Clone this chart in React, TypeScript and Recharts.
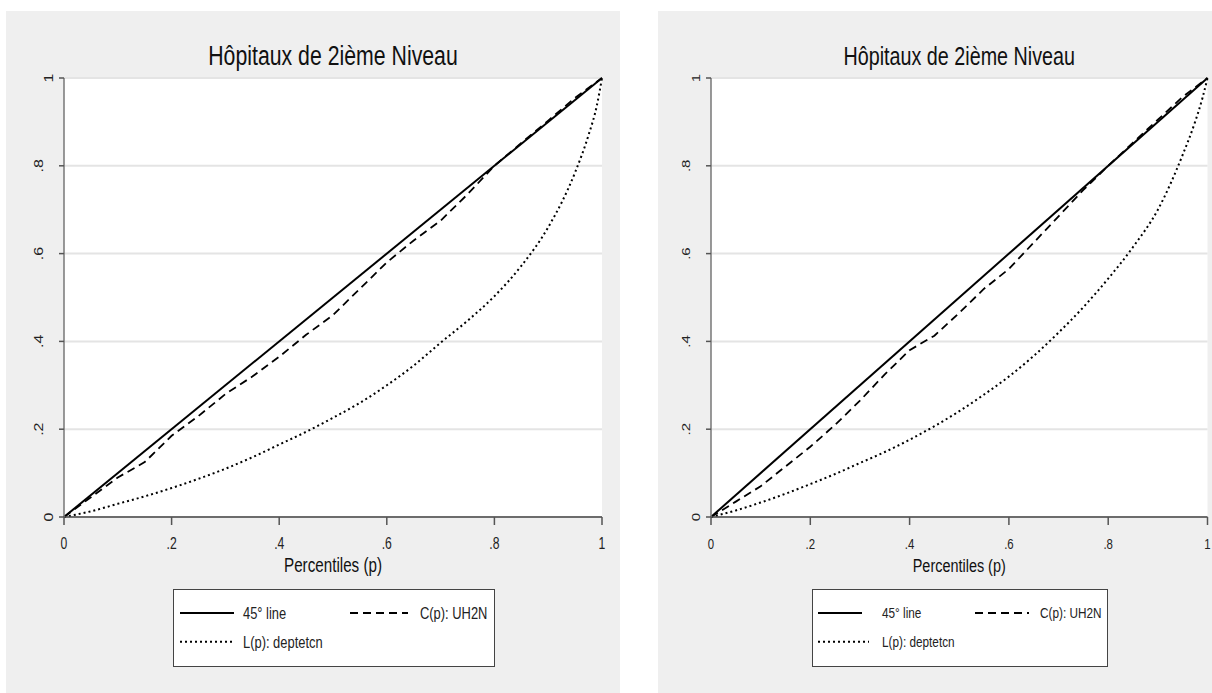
import React from 'react';
import { LineChart, Line, XAxis, YAxis, CartesianGrid } from 'recharts';

// percentiles on the x axis
const pGrid = [0, 0.05, 0.1, 0.15, 0.2, 0.25, 0.3, 0.35, 0.4, 0.45, 0.5, 0.55, 0.6, 0.65, 0.7, 0.75, 0.8, 0.85, 0.9, 0.95, 1];
const pLorenz = [0, 0.05, 0.1, 0.15, 0.2, 0.25, 0.3, 0.35, 0.4, 0.45, 0.5, 0.55, 0.6, 0.65, 0.7, 0.75, 0.8, 0.85, 0.9, 0.95, 0.975, 0.99, 1];
const pDiag = [0, 1];
const diag = [0, 1];

// concentration curves C(p): UH2N
const cLeft = [0, 0.045, 0.09, 0.125, 0.185, 0.23, 0.28, 0.32, 0.365, 0.415, 0.46, 0.52, 0.58, 0.63, 0.675, 0.735, 0.8, 0.852, 0.903, 0.955, 1];
const cRight = [0, 0.035, 0.07, 0.115, 0.16, 0.21, 0.265, 0.325, 0.38, 0.413, 0.465, 0.52, 0.565, 0.625, 0.685, 0.745, 0.8, 0.853, 0.905, 0.957, 1];

// Lorenz curves L(p): deptetcn
const lLeft = [0, 0.013, 0.03, 0.047, 0.066, 0.087, 0.11, 0.136, 0.165, 0.194, 0.226, 0.26, 0.3, 0.345, 0.397, 0.447, 0.503, 0.572, 0.66, 0.785, 0.87, 0.935, 1];
const lRight = [0, 0.015, 0.033, 0.053, 0.075, 0.098, 0.123, 0.148, 0.176, 0.207, 0.241, 0.279, 0.32, 0.367, 0.42, 0.478, 0.543, 0.615, 0.7, 0.825, 0.9, 0.955, 1];

const ticks = [0, 0.2, 0.4, 0.6, 0.8, 1];
const title = 'Hôpitaux de 2ième Niveau';
const xLabel = 'Percentiles (p)';
const seriesNames = ['45° line', 'C(p): UH2N', 'L(p): deptetcn'];

const FONT = '"Liberation Sans", Arial, Helvetica, sans-serif';
const SQ = 0.76; // the original is squeezed horizontally
const DASH = '8 5';
const DOT = '2 3';

const toRows = (xs: number[], ys: number[]) => xs.map((p, i) => ({ p, v: ys[i] }));
const fmt = (v: number) => (v === 0 ? '0' : v === 1 ? '1' : v.toFixed(1).replace(/^0/, ''));

const panels = [
  {
    left: 6, width: 614, mLeft: 18, mRight: 18, c: cLeft, l: lLeft,
    titleSize: 28, labelSize: 20, tickSize: 16,
    legend: { left: 167, width: 322, solid: [7, 61], dot: [7, 59], t1: 70, dash: [177, 235], t2: 247, font: 17 },
  },
  {
    left: 658, width: 554, mLeft: 13, mRight: 4.5, c: cRight, l: lRight,
    titleSize: 26, labelSize: 19, tickSize: 15,
    legend: { left: 154, width: 296, solid: [6, 50], dot: [6, 57], t1: 70, dash: [163, 217], t2: 228, font: 15.5 },
  },
];

const H = 682;
const TOP = 67;
const BOTTOM = 176;

function XTick({ x, y, payload, fs }: any) {
  return (
    <g transform={`translate(${x},${y + 22}) scale(${SQ},1)`}>
      <text x={0} y={0} textAnchor="middle" style={{ fontSize: fs, fontFamily: FONT }} fill="#222">{fmt(payload.value)}</text>
    </g>
  );
}

function YTick({ x, y, payload, fs }: any) {
  const s = fmt(payload.value);
  const off = s.length > 1 ? 14 : 4;
  return (
    <g transform={`translate(${x - off},${y}) scale(${SQ},1) rotate(-90)`}>
      <text x={0} y={0} textAnchor="middle" style={{ fontSize: fs, fontFamily: FONT }} fill="#222">{s}</text>
    </g>
  );
}

function LegendBox({ cfg }: { cfg: any }) {
  const row1 = 24;
  const row2 = 52.7;
  const txt = (x: number, y: number, s: string) => (
    <g transform={`translate(${x},${y}) scale(${SQ},1)`}>
      <text style={{ fontSize: cfg.font, fontFamily: FONT }} fill="#222" dominantBaseline="central">{s}</text>
    </g>
  );
  return (
    <svg
      width={cfg.width}
      height={78}
      style={{ position: 'absolute', left: cfg.left, top: 578, overflow: 'visible' }}
    >
      <rect x={0.5} y={0.5} width={cfg.width - 1} height={77} fill="#fff" stroke="#444" />
      <line x1={cfg.solid[0]} x2={cfg.solid[1]} y1={row1} y2={row1} stroke="#000" strokeWidth={2} />
      {txt(cfg.t1, row1, seriesNames[0])}
      <line x1={cfg.dash[0]} x2={cfg.dash[1]} y1={row1} y2={row1} stroke="#000" strokeWidth={1.8} strokeDasharray={DASH} />
      {txt(cfg.t2, row1, seriesNames[1])}
      <line x1={cfg.dot[0]} x2={cfg.dot[1]} y1={row2} y2={row2} stroke="#000" strokeWidth={2} strokeDasharray={DOT} />
      {txt(cfg.t1, row2, seriesNames[2])}
    </svg>
  );
}

function Panel({ cfg }: { cfg: any }) {
  const plotLeft = cfg.mLeft + 40;
  const plotRight = cfg.width - cfg.mRight;
  const cx = (plotLeft + plotRight) / 2;
  return (
    <div style={{ position: 'absolute', left: cfg.left, top: 11, width: cfg.width, height: H, background: '#efefef' }}>
      <LineChart
        width={cfg.width}
        height={H}
        margin={{ top: TOP, right: cfg.mRight, left: cfg.mLeft, bottom: BOTTOM - 60 }}
      >
        <CartesianGrid vertical={false} stroke="#e4e4e4" strokeWidth={2} fill="#fff" fillOpacity={1} />
        <XAxis
          type="number"
          dataKey="p"
          domain={[0, 1]}
          ticks={ticks}
          height={60}
          tickSize={8}
          axisLine={{ stroke: '#444', strokeWidth: 1.5 }}
          tickLine={{ stroke: '#555', strokeWidth: 1.5 }}
          tick={(props: any) => <XTick {...props} fs={cfg.tickSize} />}
          interval={0}
        />
        <YAxis
          type="number"
          domain={[0, 1]}
          ticks={ticks}
          width={40}
          tickSize={5}
          axisLine={{ stroke: '#777', strokeWidth: 1.5 }}
          tickLine={{ stroke: '#555', strokeWidth: 1.5 }}
          tick={(props: any) => <YTick {...props} fs={cfg.tickSize} />}
          interval={0}
        />
        <Line data={toRows(pLorenz, cfg.l)} dataKey="v" type="monotone" stroke="#000" strokeWidth={2} strokeDasharray={DOT} dot={false} activeDot={false} isAnimationActive={false} />
        <Line data={toRows(pGrid, cfg.c)} dataKey="v" type="linear" stroke="#000" strokeWidth={1.8} strokeDasharray={DASH} dot={false} activeDot={false} isAnimationActive={false} />
        <Line data={toRows(pDiag, diag)} dataKey="v" type="linear" stroke="#000" strokeWidth={2} dot={false} activeDot={false} isAnimationActive={false} />
      </LineChart>
      <svg width={cfg.width} height={H} style={{ position: 'absolute', left: 0, top: 0, pointerEvents: 'none' }}>
        <g transform={`translate(${cx},54) scale(${SQ},1)`}>
          <text textAnchor="middle" style={{ fontSize: cfg.titleSize, fontFamily: FONT }} fill="#111">{title}</text>
        </g>
        <g transform={`translate(${cx},561) scale(${SQ},1)`}>
          <text textAnchor="middle" style={{ fontSize: cfg.labelSize, fontFamily: FONT }} fill="#111">{xLabel}</text>
        </g>
      </svg>
      <LegendBox cfg={cfg.legend} />
    </div>
  );
}

export default function App() {
  return (
    <div style={{ position: 'fixed', left: 0, top: 0, width: 1212, height: 693, background: '#fff', overflow: 'hidden' }}>
      {panels.map((cfg, i) => (
        <Panel key={i} cfg={cfg} />
      ))}
    </div>
  );
}
